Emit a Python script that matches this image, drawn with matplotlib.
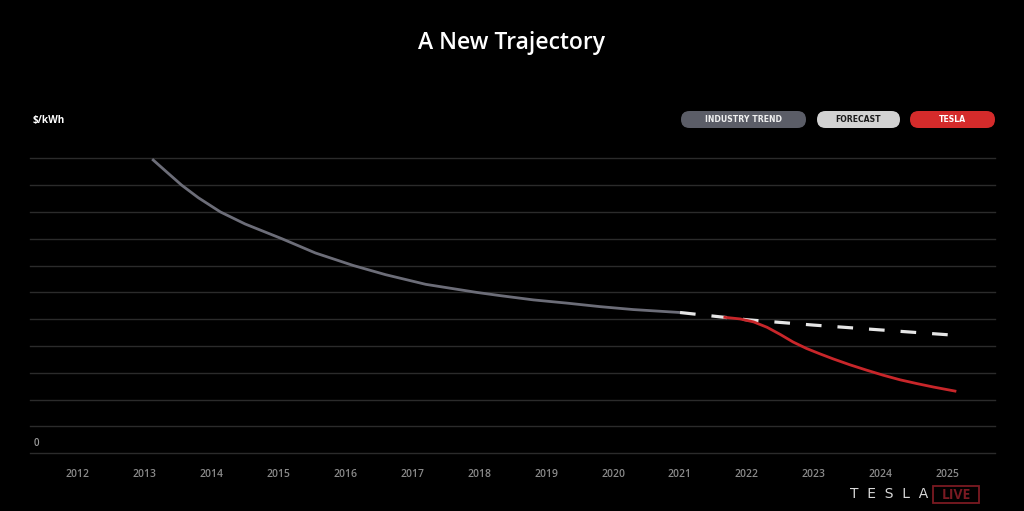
import matplotlib
matplotlib.use("Agg")
import matplotlib.pyplot as plt
from matplotlib.patches import FancyBboxPatch, Rectangle
from matplotlib.transforms import IdentityTransform

# ---- data ----
title = "A New Trajectory"
unit_label = "$/kWh"
years = [2012, 2013, 2014, 2015, 2016, 2017, 2018, 2019, 2020, 2021, 2022, 2023, 2024, 2025]
year_labels = [str(y) for y in years]

industry_x = [2013.11, 2013.30, 2013.55, 2013.80, 2014.13, 2014.50, 2015.05, 2015.55,
              2016.12, 2016.60, 2017.20, 2017.96, 2018.31, 2018.81, 2019.31, 2019.80,
              2020.30, 2021.0]
industry_y = [10.97, 10.55, 10.0, 9.53, 9.0, 8.55, 8.0, 7.47,
              7.0, 6.66, 6.30, 6.0, 5.88, 5.72, 5.60, 5.47,
              5.36, 5.25]

forecast_x = [2021, 2022, 2023, 2024, 2025.06]
forecast_y = [5.25, 4.98, 4.78, 4.60, 4.41]

tesla_x = [2021.67, 2021.90, 2022.10, 2022.30, 2022.50, 2022.69, 2022.89, 2023.09,
           2023.29, 2023.54, 2023.79, 2024.04, 2024.29, 2024.54, 2024.79, 2025.11]
tesla_y = [5.07, 5.01, 4.90, 4.70, 4.43, 4.15, 3.91, 3.71,
           3.52, 3.30, 3.10, 2.91, 2.74, 2.60, 2.47, 2.32]

legend_labels = ["INDUSTRY TREND", "FORECAST", "TESLA"]
legend_colors = ["#5b5d67", "#d2d2d2", "#d42b2b"]
legend_text_colors = ["#f0f0f0", "#1a1a1a", "#ffffff"]

W, H = 1024, 511
fig = plt.figure(figsize=(W / 100, H / 100), dpi=100, facecolor="black")

def fx(px):
    return px / W

def fy(py):
    return 1 - py / H

ax = fig.add_axes([fx(30), fy(453.3), fx(995) - fx(30), fy(158.3) - fy(453.3)])
ax.set_facecolor("black")
ax.set_xlim(2021 - 650 / 66.9, 2021 + 315 / 66.9)
ax.set_ylim(0, 11)
for s in ax.spines.values():
    s.set_visible(False)
for v in range(0, 12):
    ax.axhline(v, color="#2b2b2b", lw=1.0, zorder=1, clip_on=False)

ax.set_yticks([])
ax.set_xticks(years)
ax.set_xticklabels(year_labels, color="#8a8a8a", fontsize=7.5, family="Open Sans",
                   fontweight="semibold")
ax.tick_params(axis="x", length=0, pad=11)

ax.plot(industry_x, industry_y, color="#6c6d78", lw=2.0, zorder=3,
        solid_capstyle="butt", solid_joinstyle="round", clip_on=False)
ax.plot(forecast_x, forecast_y, color="#e6e6e6", lw=2.3, zorder=3,
        dashes=(4.9, 5.0), dash_capstyle="butt", clip_on=False)
ax.plot(tesla_x, tesla_y, color="#c8262a", lw=2.0, zorder=4,
        solid_joinstyle="round", clip_on=False)

# text
fig.text(0.5, fy(43), title, color="white", fontsize=16.5, family="Open Sans",
         fontweight="semibold", ha="center", va="center")
fig.text(fx(33), fy(120), unit_label, color="white", fontsize=7.2, family="Open Sans",
         fontweight="bold", ha="left", va="center")
fig.text(fx(34), fy(443), "0", color="#9a9a9a", fontsize=7, family="Open Sans",
         fontweight="semibold", ha="left", va="center")

# legend pills
pills = [(681, 806), (817, 900), (910, 995)]
for (x0, x1), lab, c, tc in zip(pills, legend_labels, legend_colors, legend_text_colors):
    y0 = H - 128
    h = 17
    p = FancyBboxPatch((x0, y0), x1 - x0, h, boxstyle="round,pad=0,rounding_size=8.5",
                       transform=IdentityTransform(), facecolor=c, edgecolor="none")
    fig.patches.append(p)
    fig.text(fx((x0 + x1) / 2), fy(119.5), lab, color=tc, fontsize=5.6, family="DejaVu Sans",
             fontweight="bold", ha="center", va="center")

# TESLA LIVE logo
fig.text(fx(889), fy(494), "T  E  S  L  A", color="#d8d8d8", fontsize=10, family="DejaVu Sans",
         ha="center", va="center")
fig.patches.append(Rectangle((933, H - 503), 46, 17, transform=IdentityTransform(),
                             facecolor="none", edgecolor="#7a1a22", lw=1.3))
fig.text(fx(956), fy(494.5), "LIVE", color="#7a1a22", fontsize=10, family="Open Sans",
         fontweight="bold", ha="center", va="center")

fig.savefig("out.png", dpi=100, facecolor="black")
